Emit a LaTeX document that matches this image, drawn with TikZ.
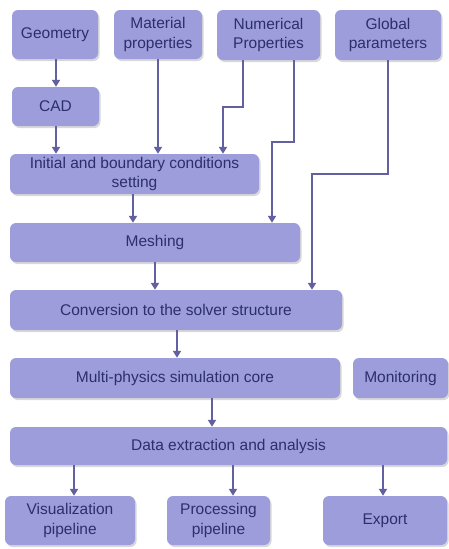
\documentclass[tikz,border=0pt]{standalone}
\usepackage{fontspec}
\setmainfont{Liberation Sans}
\usetikzlibrary{arrows.meta,shadows}
\definecolor{boxfill}{RGB}{156,157,218}
\definecolor{boxtext}{RGB}{44,47,108}
\definecolor{linecol}{RGB}{98,96,160}
\begin{document}
\begin{tikzpicture}[x=1pt,y=-1pt,
  box/.style={draw=none, fill=boxfill, rounded corners=6pt, align=center,
    text=boxtext, font=\fontsize{15.5}{19.5}\selectfont, inner sep=0pt,
    drop shadow={shadow xshift=1.5pt, shadow yshift=-2pt, opacity=0.25, fill=black!60}},
  arr/.style={draw=linecol, line width=1.8pt, -{Triangle[length=7pt,width=8pt]}}]
\useasboundingbox[fill=white] (0,0) rectangle (449,549);

\node[box, minimum width=86pt, minimum height=49pt] (geo) at (55,34.5) {Geometry};
\node[box, minimum width=88pt, minimum height=49pt] (mat) at (158,34.5) {Material\\properties};
\node[box, minimum width=103pt, minimum height=50pt] (num) at (268.5,35) {Numerical\\Properties};
\node[box, minimum width=106pt, minimum height=50pt] (glob) at (388,35) {Global\\parameters};
\node[box, minimum width=87pt, minimum height=39pt] (cad) at (55.5,106.5) {CAD};
\node[box, minimum width=249pt, minimum height=40pt] (init) at (134.5,174) {Initial and boundary conditions\\setting};
\node[box, minimum width=290pt, minimum height=39pt] (mesh) at (155,242.5) {Meshing};
\node[box, minimum width=332pt, minimum height=40pt] (conv) at (176,310) {Conversion to the solver structure};
\node[box, minimum width=330pt, minimum height=40pt] (multi) at (175,378) {Multi-physics simulation core};
\node[box, minimum width=95pt, minimum height=40pt] (mon) at (400.5,378) {Monitoring};
\node[box, minimum width=437pt, minimum height=38pt] (data) at (228.5,446) {Data extraction and analysis};
\node[box, minimum width=130pt, minimum height=49pt] (vis) at (70,520.5) {Visualization\\pipeline};
\node[box, minimum width=103pt, minimum height=49pt] (proc) at (218.5,520.5) {Processing\\pipeline};
\node[box, minimum width=124pt, minimum height=49pt] (exp) at (385,520.5) {Export};

\coordinate (numL) at (243,107);
\coordinate (numR) at (294,142);
\coordinate (globK) at (388,174);

\draw[arr] (geo.south -| 56,0) -- (cad.north -| 56,0);
\draw[arr] (cad.south -| 56,0) -- (init.north -| 56,0);
\draw[arr] (mat.south) -- (init.north -| mat.south);
\draw[arr] (num.south -| numL) -- (numL) -- (numL -| 223,0) -- (init.north -| 223,0);
\draw[arr] (num.south -| numR) -- (numR) -- (numR -| 272,0) -- (mesh.north -| 272,0);
\draw[arr] (glob.south) -- (globK) -- (globK -| 312,0) -- (conv.north -| 312,0);
\draw[arr] (init.south -| 133,0) -- (mesh.north -| 133,0);
\draw[arr] (mesh.south) -- (conv.north -| mesh.south);
\draw[arr] (conv.south -| 177,0) -- (multi.north -| 177,0);
\draw[arr] (multi.south -| 212,0) -- (data.north -| 212,0);
\draw[arr] (data.south -| 74,0) -- (vis.north -| 74,0);
\draw[arr] (data.south -| 233,0) -- (proc.north -| 233,0);
\draw[arr] (data.south -| 383,0) -- (exp.north -| 383,0);
\end{tikzpicture}
\end{document}
